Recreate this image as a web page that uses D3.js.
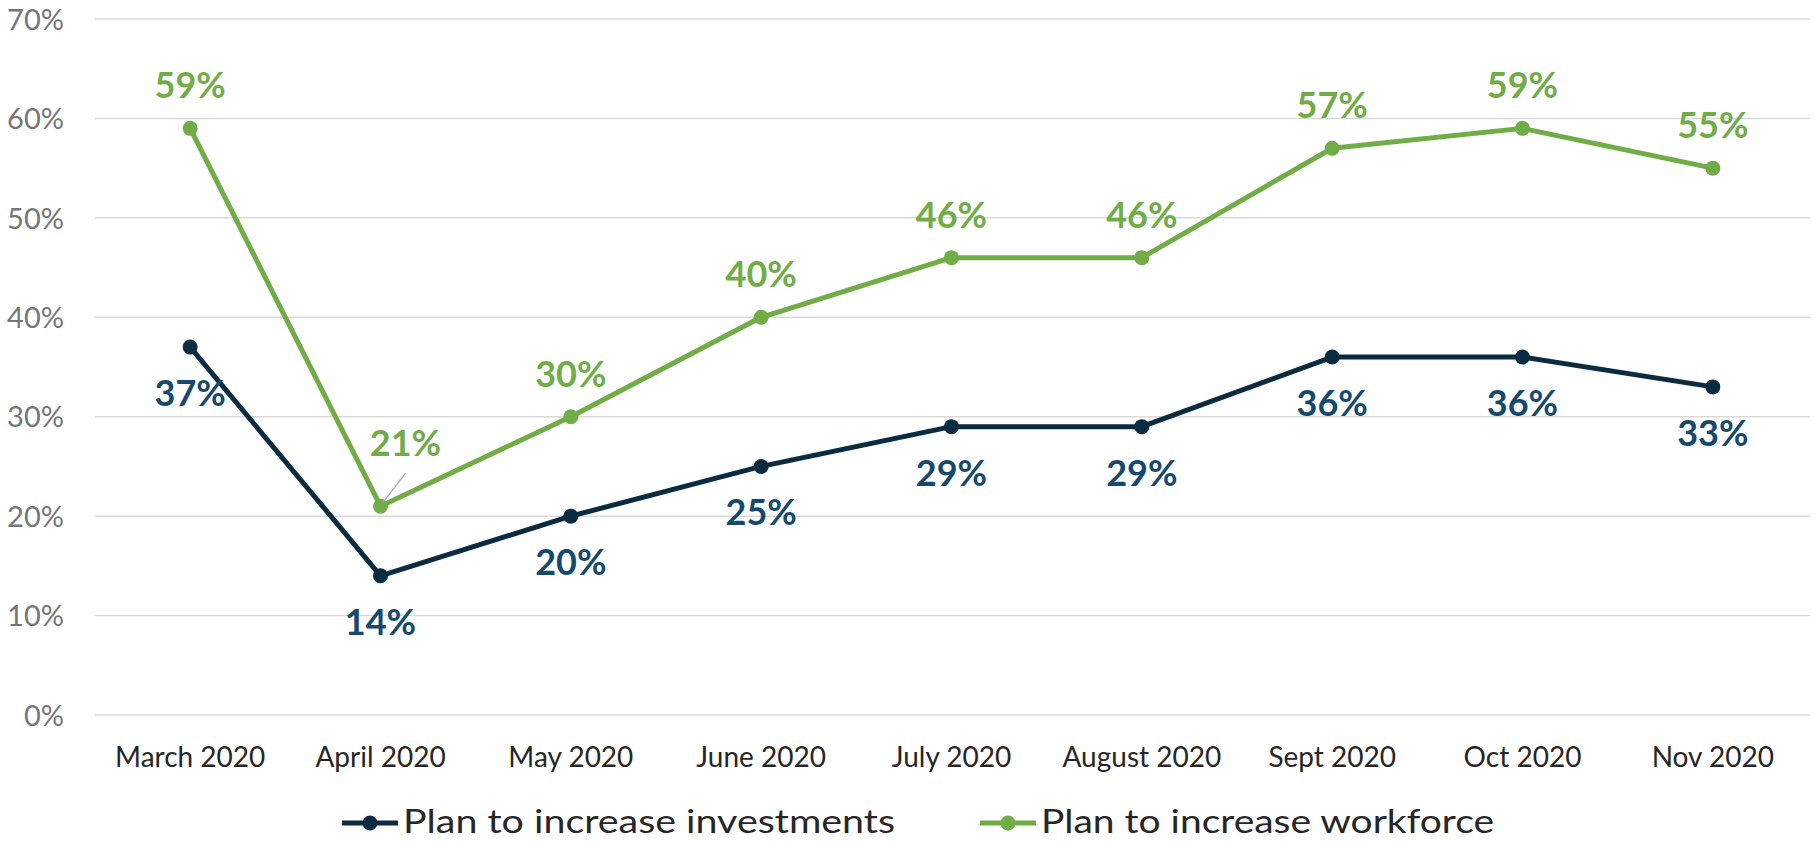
<!DOCTYPE html>
<html>
<head>
<meta charset="utf-8">
<script src="https://cdn.jsdelivr.net/npm/d3@7"></script>
<style>
  html, body { margin: 0; padding: 0; background: #fff; }
  svg { display: block; }
</style>
</head>
<body>
<svg id="chart" width="1815" height="842"></svg>
<script>
const categories = ["March 2020", "April 2020", "May 2020", "June 2020", "July 2020", "August 2020", "Sept 2020", "Oct 2020", "Nov 2020"];
const investments = [0.37, 0.14, 0.20, 0.25, 0.29, 0.29, 0.36, 0.36, 0.33];
const workforce = [0.59, 0.21, 0.30, 0.40, 0.46, 0.46, 0.57, 0.59, 0.55];
const yTicks = [0, 0.1, 0.2, 0.3, 0.4, 0.5, 0.6, 0.7];
const seriesNames = ["Plan to increase investments", "Plan to increase workforce"];

const FONT = "Lato, 'Open Sans', sans-serif";
const svg = d3.select("#chart");
const x = d3.scaleBand().domain(categories).range([95, 1808]);
const y = d3.scaleLinear().domain([0, 0.7]).range([715, 19]);
const cx = d => x(d) + x.bandwidth() / 2;

// gridlines
svg.append("g").selectAll("line").data(yTicks).join("line")
  .attr("x1", 95).attr("x2", 1810)
  .attr("y1", d => y(d)).attr("y2", d => y(d))
  .attr("stroke", "#d9d9d9").attr("stroke-width", 1.5);

// y axis labels
const yAxis = d3.axisLeft(y).tickValues(yTicks).tickFormat(d3.format(".0%")).tickSize(0).tickPadding(0);
const yg = svg.append("g").attr("transform", "translate(64,0)").call(yAxis);
yg.select(".domain").remove();
yg.selectAll("text").attr("font-family", FONT).attr("font-size", 29).attr("fill", "#767676").attr("dy", "0.35em");

// x axis labels
const xAxis = d3.axisBottom(x).tickSize(0).tickPadding(0);
const xg = svg.append("g").attr("transform", "translate(0,767)").call(xAxis);
xg.select(".domain").remove();
xg.selectAll("text").attr("font-family", FONT).attr("font-size", 28).attr("fill", "#262626").attr("dy", 0);

const series = [
  { name: seriesNames[0], values: investments, line: "#0b2b40", label: "#15496d", pos: "below" },
  { name: seriesNames[1], values: workforce, line: "#70ad47", label: "#70ad47", pos: "above" }
];

const lineGen = d3.line().x((d, i) => cx(categories[i])).y(d => y(d));

series.forEach(s => {
  const g = svg.append("g");
  g.append("path").datum(s.values).attr("d", lineGen)
    .attr("fill", "none").attr("stroke", s.line).attr("stroke-width", 5).attr("stroke-linejoin", "round");
  g.selectAll("circle").data(s.values).join("circle")
    .attr("cx", (d, i) => cx(categories[i])).attr("cy", d => y(d)).attr("r", 7.5).attr("fill", s.line);
});

// data labels
series.forEach(s => {
  const g = svg.append("g");
  s.values.forEach((v, i) => {
    let px = cx(categories[i]), py = y(v);
    let lx = px, ly;
    if (s.pos === "below") ly = py + 46;
    else ly = py - 43;
    if (s.pos === "above" && i === 1) {
      lx = px + 25; ly = py - 63;
      g.append("line").attr("x1", px + 2).attr("y1", py - 3).attr("x2", px + 25).attr("y2", py - 33)
        .attr("stroke", "#a6a6a6").attr("stroke-width", 1.2);
    }
    g.append("text").attr("x", lx).attr("y", ly).attr("dy", "0.36em")
      .attr("text-anchor", "middle").attr("font-family", FONT).attr("font-weight", 700)
      .attr("font-size", 36).attr("fill", s.label).text(d3.format(".0%")(v));
  });
});

// legend
const legendItems = [
  { name: seriesNames[0], color: series[0].line, x0: 342, w: 492 },
  { name: seriesNames[1], color: series[1].line, x0: 980, w: 453 }
];
const lg = svg.append("g");
legendItems.forEach(it => {
  lg.append("line").attr("x1", it.x0).attr("x2", it.x0 + 56).attr("y1", 823).attr("y2", 823)
    .attr("stroke", it.color).attr("stroke-width", 5);
  lg.append("circle").attr("cx", it.x0 + 28).attr("cy", 823).attr("r", 7.5).attr("fill", it.color);
  lg.append("text").attr("x", it.x0 + 61).attr("y", 833).attr("font-family", FONT)
    .attr("font-size", 33).attr("fill", "#262626")
    .attr("textLength", it.w).attr("lengthAdjust", "spacingAndGlyphs").text(it.name);
});
</script>
</body>
</html>
